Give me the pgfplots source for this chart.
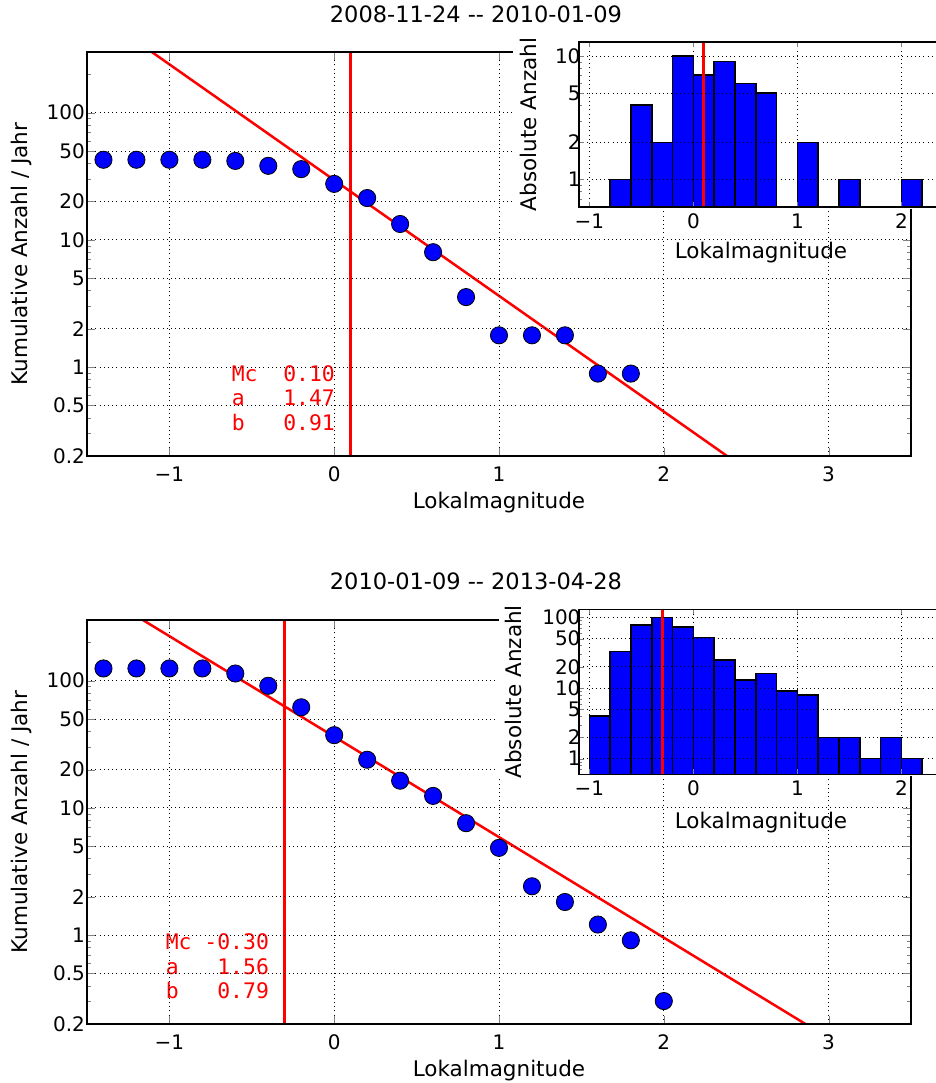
\documentclass[border=0pt]{standalone}
\usepackage{fontspec}
\setmainfont{DejaVu Sans}
\setmonofont{DejaVu Sans Mono}
\usepackage{pgfplots}
\pgfplotsset{compat=1.18}

\begin{document}
\begin{tikzpicture}
\path[use as bounding box] (0pt,0pt) rectangle (935pt,1083pt);

% ---------------- top panel ----------------
\begin{axis}[at={(87pt,627pt)}, anchor=south west,
  scale only axis, width=824pt, height=404pt,
  ymode=log, log origin=infty,
  xmin=-1.5, xmax=3.5, ymin=0.2, ymax=300,
  tick align=inside, xtick pos=both, ytick pos=both,
  grid=major,
  major grid style={black, line width=0.9pt, dash pattern=on 1pt off 3.2pt},
  axis line style={black, line width=1.3pt},
  axis on top,
  tick label style={font=\fontsize{20}{24}\selectfont},
  label style={font=\fontsize{21.5}{26}\selectfont},
  xtick={-1,0,1,2,3}, xticklabels={−1,0,1,2,3},
  ytick={0.2,0.5,1,2,5,10,20,50,100},
  yticklabels={0.2,0.5,1,2,5,10,20,50,100},
  minor ytick={0.3,0.4,0.6,0.7,0.8,0.9,3,4,6,7,8,9,30,40,60,70,80,90,200,300},
  major tick length=8pt, minor tick length=4pt,
  xticklabel style={yshift=-7pt},
  yticklabel style={xshift=1.4pt},
  xlabel={Lokalmagnitude}, ylabel={Kumulative Anzahl / Jahr},
  xlabel style={at={(axis description cs:0.5,-0.1163)}, anchor=center},
  ylabel style={at={(axis description cs:-0.0789,0.5)}, anchor=center},
  title={2008-11-24 -\kern0pt- 2010-01-09},
  title style={at={(axis description cs:0.472,1.079)}, anchor=center, font=\fontsize{22.5}{27}\selectfont}]
\addplot[red, line width=2.5pt] coordinates {(-1.5,683.9) (3.5,0.01928)};
\addplot[red, line width=2.8pt] coordinates {(0.1,0.05) (0.1,1000)};
\addplot[only marks, mark=*, mark size=8.6pt, mark options={fill=blue, draw=black, line width=0.8pt}] coordinates {
(-1.4,42.65) (-1.2,42.65) (-1.0,42.65) (-0.8,42.65) (-0.6,41.77) (-0.4,38.21)
(-0.2,36.0) (0.0,27.55) (0.2,21.33) (0.4,13.33) (0.6,8.00) (0.8,3.55)
(1.0,1.777) (1.2,1.777) (1.4,1.777) (1.6,0.889) (1.8,0.889)};
\node[anchor=east, inner sep=0pt, text=red, align=right, font=\fontsize{21.4}{24.4}\selectfont\ttfamily]
  at (axis cs:0.005,0.57) {Mc~~0.10\\a~~~1.47\\b~~~0.91};
\end{axis}
\fill[white] (513pt,874pt) rectangle (945pt,1040pt);
\begin{axis}[at={(579pt,876pt)}, anchor=south west,
  scale only axis, width=364pt, height=165pt,
  ymode=log, log origin=infty,
  xmin=-1.1, xmax=2.4, ymin=0.6, ymax=13,
  tick align=inside, xtick pos=both, ytick pos=both,
  grid=major,
  major grid style={black, line width=0.9pt, dash pattern=on 1pt off 3.2pt},
  axis line style={black, line width=1.3pt},
  axis on top, axis background/.style={fill=white},
  tick label style={font=\fontsize{20}{24}\selectfont},
  label style={font=\fontsize{21.5}{26}\selectfont},
  xtick={-1,0,1,2}, xticklabels={−1,0,1,2},
  ytick={1,2,5,10}, yticklabels={1,2,5,10},
  minor ytick={0.7,0.8,0.9,3,4,6,7,8,9},
  major tick length=5pt, minor tick length=2.5pt,
  xticklabel style={yshift=-3pt},
  yticklabel style={xshift=5pt},
  xlabel={Lokalmagnitude}, ylabel={Absolute Anzahl},
  xlabel style={at={(axis description cs:0.5,-0.279)}, anchor=center},
  ylabel style={at={(axis description cs:-0.140,0.5)}, anchor=center}]
\addplot[ybar, bar width=0.2, fill=blue, draw=black, line width=1.5pt] coordinates {
(-0.7,1) (-0.5,4) (-0.3,2) (-0.1,10) (0.1,7) (0.3,9) (0.5,6) (0.7,5)
(1.1,2) (1.5,1) (2.1,1)};
\addplot[red, line width=2.8pt] coordinates {(0.1,0.1) (0.1,100)};
\end{axis}

% ---------------- bottom panel ----------------
\begin{axis}[at={(87pt,59pt)}, anchor=south west,
  scale only axis, width=824pt, height=404pt,
  ymode=log, log origin=infty,
  xmin=-1.5, xmax=3.5, ymin=0.2, ymax=300,
  tick align=inside, xtick pos=both, ytick pos=both,
  grid=major,
  major grid style={black, line width=0.9pt, dash pattern=on 1pt off 3.2pt},
  axis line style={black, line width=1.3pt},
  axis on top,
  tick label style={font=\fontsize{20}{24}\selectfont},
  label style={font=\fontsize{21.5}{26}\selectfont},
  xtick={-1,0,1,2,3}, xticklabels={−1,0,1,2,3},
  ytick={0.2,0.5,1,2,5,10,20,50,100},
  yticklabels={0.2,0.5,1,2,5,10,20,50,100},
  minor ytick={0.3,0.4,0.6,0.7,0.8,0.9,3,4,6,7,8,9,30,40,60,70,80,90,200,300},
  major tick length=8pt, minor tick length=4pt,
  xticklabel style={yshift=-7pt},
  yticklabel style={xshift=1.4pt},
  xlabel={Lokalmagnitude}, ylabel={Kumulative Anzahl / Jahr},
  xlabel style={at={(axis description cs:0.5,-0.1163)}, anchor=center},
  ylabel style={at={(axis description cs:-0.0789,0.5)}, anchor=center},
  title={2010-01-09 -\kern0pt- 2013-04-28},
  title style={at={(axis description cs:0.472,1.082)}, anchor=center, font=\fontsize{22.5}{27}\selectfont}]
\addplot[red, line width=2.5pt] coordinates {(-1.5,555.9) (3.5,0.06237)};
\addplot[red, line width=2.8pt] coordinates {(-0.3,0.05) (-0.3,1000)};
\addplot[only marks, mark=*, mark size=8.6pt, mark options={fill=blue, draw=black, line width=0.8pt}] coordinates {
(-1.4,124.8) (-1.2,124.8) (-1.0,124.8) (-0.8,124.8) (-0.6,113.9) (-0.4,91.2)
(-0.2,61.8) (0.0,37.3) (0.2,23.9) (0.4,16.36) (0.6,12.42) (0.8,7.58)
(1.0,4.85) (1.2,2.42) (1.4,1.82) (1.6,1.21) (1.8,0.91) (2.0,0.303)};
\node[anchor=east, inner sep=0pt, text=red, align=right, font=\fontsize{21.4}{24.4}\selectfont\ttfamily]
  at (axis cs:-0.395,0.567) {Mc~-0.30\\a~~~1.56\\b~~~0.79};
\end{axis}
\fill[white] (499pt,307pt) rectangle (945pt,470pt);
\begin{axis}[at={(579pt,308.7pt)}, anchor=south west,
  scale only axis, width=364pt, height=165pt,
  ymode=log, log origin=infty,
  xmin=-1.1, xmax=2.4, ymin=0.6, ymax=130,
  tick align=inside, xtick pos=both, ytick pos=both,
  grid=major,
  major grid style={black, line width=0.9pt, dash pattern=on 1pt off 3.2pt},
  axis line style={black, line width=1.3pt},
  axis on top, axis background/.style={fill=white},
  tick label style={font=\fontsize{20}{24}\selectfont},
  label style={font=\fontsize{21.5}{26}\selectfont},
  xtick={-1,0,1,2}, xticklabels={−1,0,1,2},
  ytick={1,2,5,10,20,50,100}, yticklabels={1,2,5,10,20,50,100},
  minor ytick={0.7,0.8,0.9,3,4,6,7,8,9,30,40,60,70,80,90},
  major tick length=5pt, minor tick length=2.5pt,
  xticklabel style={yshift=-3pt},
  yticklabel style={xshift=5pt},
  xlabel={Lokalmagnitude}, ylabel={Absolute Anzahl},
  xlabel style={at={(axis description cs:0.5,-0.295)}, anchor=center},
  ylabel style={at={(axis description cs:-0.181,0.5)}, anchor=center}]
\addplot[ybar, bar width=0.2, fill=blue, draw=black, line width=1.5pt] coordinates {
(-0.9,4) (-0.7,33) (-0.5,78) (-0.3,100) (-0.1,73) (0.1,52) (0.3,25) (0.5,13)
(0.7,16) (0.9,9) (1.1,8) (1.3,2) (1.5,2) (1.7,1) (1.9,2) (2.1,1)};
\addplot[red, line width=2.8pt] coordinates {(-0.3,0.1) (-0.3,1000)};
\end{axis}
\end{tikzpicture}
\end{document}
